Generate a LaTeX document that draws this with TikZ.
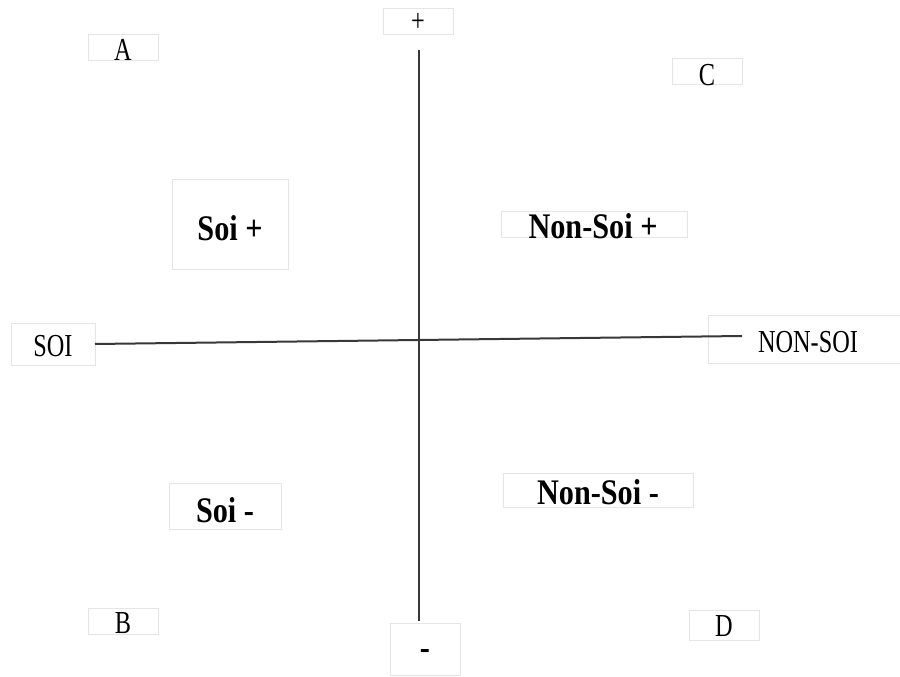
\documentclass[tikz,border=0pt]{standalone}
\usepackage{fontspec}
\usepackage{graphicx}
\setmainfont{Liberation Serif}
\newcommand{\regtxt}[1]{\fontsize{24}{24}\selectfont\scalebox{0.76}[1]{#1}}
\newcommand{\boldtxt}[1]{\fontsize{27}{27}\selectfont\bfseries\scalebox{0.84}[1]{#1}}
\begin{document}
\begin{tikzpicture}[x=0.75pt,y=-0.75pt,
  box/.style={draw=black!10, line width=0.6pt, inner sep=0pt, rectangle},
  lbl/.style={inner sep=0pt, align=center},
  axis/.style={draw=black!78, line width=1.5pt}]
\useasboundingbox (0,0) rectangle (900,677);
% boxes
\node[box, minimum width=52.5pt, minimum height=19.5pt] (A) at (123,47) {};
\node[box, minimum width=52.5pt, minimum height=20pt] (plus) at (418,21.5) {};
\node[box, minimum width=53pt, minimum height=20pt] (C) at (707.5,71.5) {};
\node[box, minimum width=87pt, minimum height=67pt] (soiplus) at (230,224.5) {};
\node[box, minimum width=139.5pt, minimum height=20pt] (nonsoiplus) at (594,224.5) {};
\node[box, minimum width=63pt, minimum height=31.5pt] (soi) at (53,344) {};
\node[box, minimum width=147pt, minimum height=36pt] (nonsoi) at (806,339) {};
\node[box, minimum width=84pt, minimum height=35pt] (soiminus) at (225,506.5) {};
\node[box, minimum width=142pt, minimum height=26pt] (nonsoiminus) at (598.5,490.5) {};
\node[box, minimum width=52.5pt, minimum height=20pt] (B) at (123,621.5) {};
\node[box, minimum width=52.5pt, minimum height=39pt] (minus) at (425,649) {};
\node[box, minimum width=53pt, minimum height=22.5pt] (D) at (724.5,625) {};
% labels
\node[lbl] (Atxt) at (123,50) {\regtxt{A}};
\node[lbl] (plustxt) at (418,22) {\regtxt{+}};
\node[lbl] (Ctxt) at (707,75) {\regtxt{C}};
\node[lbl] (soiplustxt) at (230,228) {\boldtxt{Soi +}};
\node[lbl] (nonsoiplustxt) at (593,226) {\boldtxt{Non-Soi +}};
\node[lbl] (soitxt) at (53,346) {\regtxt{SOI}};
\node[lbl] (nonsoitxt) at (808,342) {\regtxt{NON-SOI}};
\node[lbl] (soiminustxt) at (225,510) {\boldtxt{Soi -}};
\node[lbl] (nonsoiminustxt) at (598,492) {\boldtxt{Non-Soi -}};
\node[lbl] (Btxt) at (123,623) {\regtxt{B}};
\node[lbl] (minustxt) at (425,654) {\boldtxt{-}};
\node[lbl] (Dtxt) at (724,626) {\regtxt{D}};
% axes
\coordinate (vtop) at (419,50);
\coordinate (vbot) at (419,621);
\coordinate (hleft) at (95,344);
\coordinate (hright) at (742,336);
\draw[axis] (vtop) -- (vbot);
\draw[axis] (hleft) -- (hright);
\end{tikzpicture}
\end{document}
